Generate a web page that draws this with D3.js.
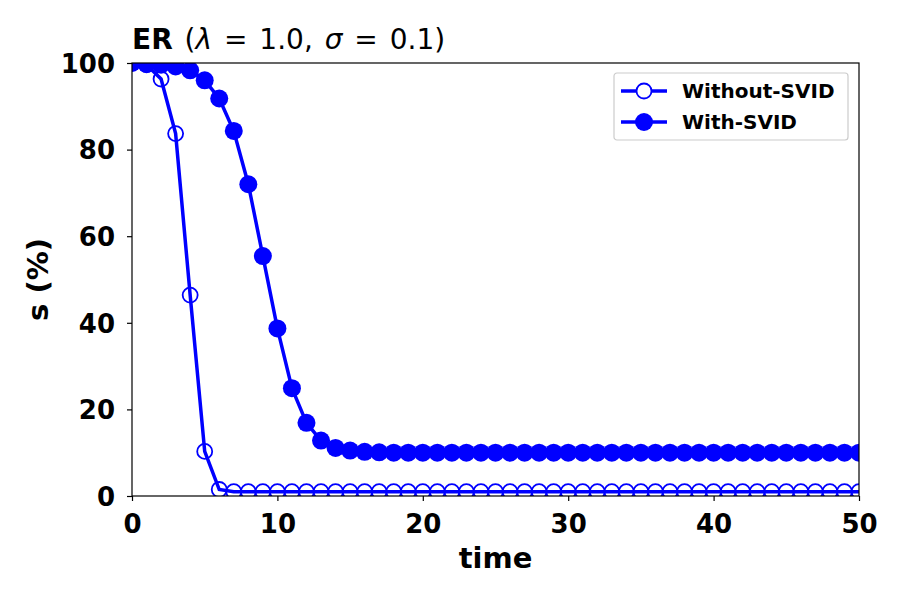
<!DOCTYPE html>
<html>
<head>
<meta charset="utf-8">
<script src="https://cdn.jsdelivr.net/npm/d3@7"></script>
<style>
  body { margin: 0; background: #fff; }
  text { font-family: "DejaVu Sans", sans-serif; }
</style>
</head>
<body>
<div id="chart"></div>
<script>
// data
var times = d3.range(0, 51);
var withoutSvid = [100, 99.6, 96.3, 83.7, 46.4, 10.3, 1.5];
var withSvid = [100, 99.8, 99.6, 99.2, 98.3, 96.0, 91.8, 84.3, 72.0, 55.4, 38.7,
                24.9, 16.9, 12.8, 11.1, 10.5, 10.2, 10.1];
while (withoutSvid.length < times.length) withoutSvid.push(1.0);
while (withSvid.length < times.length) withSvid.push(10.0);

var xTicks = [0, 10, 20, 30, 40, 50];
var yTicks = [0, 20, 40, 60, 80, 100];
var seriesNames = ["Without-SVID", "With-SVID"];

var width = 900, height = 600;
var margin = {top: 63, right: 41, bottom: 104, left: 132};
var w = width - margin.left - margin.right;
var h = height - margin.top - margin.bottom;
var blue = "#0000ff";

var svg = d3.select("#chart").append("svg")
    .attr("width", width)
    .attr("height", height);

svg.append("defs").append("clipPath")
    .attr("id", "plotclip")
  .append("rect")
    .attr("width", w)
    .attr("height", h);

var g = svg.append("g")
    .attr("transform", "translate(" + margin.left + "," + margin.top + ")");

var x = d3.scaleLinear().domain([0, 50]).range([0, w]);
var y = d3.scaleLinear().domain([0, 100]).range([h, 0]);

var line = d3.line()
    .x(function(d) { return x(d[0]); })
    .y(function(d) { return y(d[1]); });

var plot = g.append("g").attr("clip-path", "url(#plotclip)");

var ptsWithout = times.map(function(t, i) { return [t, withoutSvid[i]]; });
var ptsWith = times.map(function(t, i) { return [t, withSvid[i]]; });

// without-SVID: line + open circles
plot.append("path")
    .datum(ptsWithout)
    .attr("d", line)
    .attr("fill", "none")
    .attr("stroke", blue)
    .attr("stroke-width", 3.5);
plot.selectAll(".open")
    .data(ptsWithout).enter()
    .append("circle")
    .attr("class", "open")
    .attr("cx", function(d) { return x(d[0]); })
    .attr("cy", function(d) { return y(d[1]); })
    .attr("r", 7.5)
    .attr("fill", "none")
    .attr("stroke", blue)
    .attr("stroke-width", 1.8);

// with-SVID: line + filled circles
plot.append("path")
    .datum(ptsWith)
    .attr("d", line)
    .attr("fill", "none")
    .attr("stroke", blue)
    .attr("stroke-width", 3.5);
plot.selectAll(".filled")
    .data(ptsWith).enter()
    .append("circle")
    .attr("class", "filled")
    .attr("cx", function(d) { return x(d[0]); })
    .attr("cy", function(d) { return y(d[1]); })
    .attr("r", 9)
    .attr("fill", blue);

// axes
var xAxis = g.append("g")
    .attr("transform", "translate(0," + h + ")")
    .call(d3.axisBottom(x).tickValues(xTicks).tickSize(5).tickPadding(14).tickSizeOuter(0));
var yAxis = g.append("g")
    .call(d3.axisLeft(y).tickValues(yTicks).tickSize(5).tickPadding(12).tickSizeOuter(0));

[xAxis, yAxis].forEach(function(a) {
  a.select(".domain").remove();
  a.selectAll("line").attr("stroke", "#000").attr("stroke-width", 1.2);
  a.selectAll("text")
      .attr("fill", "#000")
      .style("font-size", "26px")
      .style("font-weight", "bold");
});
xAxis.selectAll("text").attr("dy", "0.71em");
yAxis.selectAll("text").attr("dy", "0.36em");

// frame
g.append("rect")
    .attr("width", w)
    .attr("height", h)
    .attr("fill", "none")
    .attr("stroke", "#000")
    .attr("stroke-width", 1.2);

// axis labels
svg.append("text")
    .attr("x", margin.left + w / 2)
    .attr("y", 568)
    .attr("text-anchor", "middle")
    .style("font-size", "29px")
    .style("font-weight", "bold")
    .text("time");

svg.append("text")
    .attr("transform", "translate(48," + (margin.top + h / 2) + ") rotate(-90)")
    .attr("text-anchor", "middle")
    .style("font-size", "29px")
    .style("font-weight", "bold")
    .text("s (%)");

// title
var title = svg.append("text")
    .attr("x", margin.left)
    .attr("y", 49)
    .style("font-size", "28px")
    .style("word-spacing", "3px");
title.append("tspan").style("font-weight", "bold").text("ER");
title.append("tspan").text(" (");
title.append("tspan").style("font-style", "italic").text("\u03bb");
title.append("tspan").text(" = 1.0, ");
title.append("tspan").style("font-style", "italic").text("\u03c3");
title.append("tspan").text(" = 0.1)");

// legend
var legend = svg.append("g").attr("transform", "translate(614,73)");
legend.append("rect")
    .attr("width", 234)
    .attr("height", 67)
    .attr("rx", 3)
    .attr("fill", "#fff")
    .attr("fill-opacity", 0.8)
    .attr("stroke", "#ccc")
    .attr("stroke-width", 1.2);

seriesNames.forEach(function(name, i) {
  var ly = 18 + i * 31;
  var row = legend.append("g").attr("transform", "translate(0," + ly + ")");
  row.append("line")
      .attr("x1", 7).attr("x2", 53)
      .attr("stroke", blue)
      .attr("stroke-width", 3.5);
  var c = row.append("circle").attr("cx", 30).attr("r", i === 0 ? 7.5 : 9);
  if (i === 0) {
    c.attr("fill", "#fff").attr("stroke", blue).attr("stroke-width", 1.8);
  } else {
    c.attr("fill", blue);
  }
  row.append("text")
      .attr("x", 68)
      .attr("dy", "0.36em")
      .style("font-size", "20px")
      .style("font-weight", "bold")
      .text(name);
});
</script>
</body>
</html>
